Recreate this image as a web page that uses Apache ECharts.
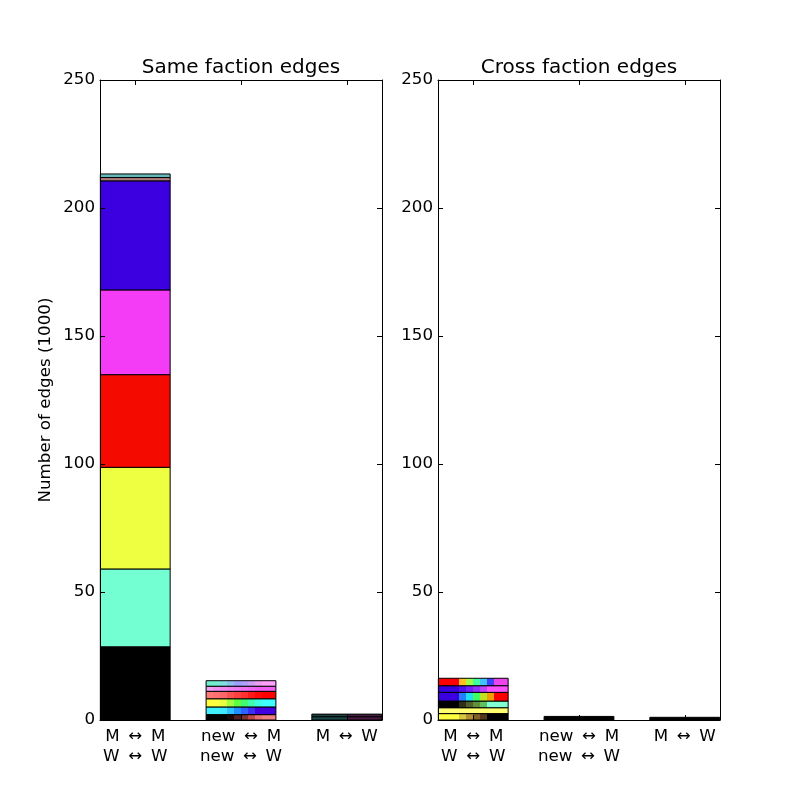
<!DOCTYPE html>
<html>
<head>
<meta charset="utf-8">
<script src="https://cdn.jsdelivr.net/npm/echarts@6/dist/echarts.min.js"></script>
<style>
  html, body { margin: 0; padding: 0; background: #fff; }
  #chart { width: 800px; height: 800px; }
</style>
</head>
<body>
<div id="chart"></div>
<script>
// x positions 0,1,2 on the category labels below
var categories = ['M \u2009↔\u2009 M\nW \u2009↔\u2009 W', 'new \u2009↔\u2009 M\nnew \u2009↔\u2009 W', 'M \u2009↔\u2009 W'];
var yTicks = [0, 50, 100, 150, 200, 250];

// segment heights (1000 edges), bottom to top, one list per category
var sameSegs = [
    [28.6, 30.4, 39.7, 36.2, 33.1, 42.6, 1.3, 1.4],
    [2.1, 3.0, 3.2, 2.9, 2.0, 2.15],
    [1.3, 1.0]
];
var crossSegs = [
    [2.5, 2.3, 2.6, 3.4, 2.6, 2.9],
    [1.4],
    [1.05]
];

// colour strips of every segment (left to right)
var sameColors = [
    [['#000000'], ['#73ffd2'], ['#eeff41'], ['#f50a00'], ['#f43cf6'], ['#3c00e0'], ['#b07a7a'], ['#66b8b8']],
    [
        ['#000000', '#000000', '#000000', '#1a0808', '#502020', '#803030', '#c04848', '#e87070', '#f08080', '#f08080'],
        ['#40f0ff', '#40f0ff', '#40e8ff', '#30c0ff', '#2090ff', '#3060ff', '#3a30f0', '#4000e0', '#4000e0', '#4000e0'],
        ['#ffff40', '#ffff40', '#e8ff40', '#a0ff40', '#60ff40', '#40ff70', '#40ffb0', '#40ffe0', '#40ffff', '#40ffff'],
        ['#ff7878', '#ff7070', '#ff6868', '#ff5050', '#ff4040', '#ff3030', '#ff1818', '#ff0808', '#ff0000', '#ff0000'],
        ['#f0a0f0', '#f090f0', '#f088f0', '#f080f0', '#f078f0', '#f070f0', '#f068f0', '#f060f0', '#f060f0', '#f060f0'],
        ['#70f0d0', '#70f0d0', '#80e0e0', '#90c0f0', '#a0a0ff', '#b0a0ff', '#d0a0f8', '#f0a0f0', '#ffa0ff', '#ffa0ff']
    ],
    [['#1a4a48', '#4a1a42'], ['#204444', '#442044']]
];
var crossColors = [
    [
        ['#ffff40', '#ffff40', '#ffff40', '#d8c840', '#b09030', '#806028', '#503818', '#000000', '#000000', '#000000'],
        ['#ffff70'],
        ['#000000', '#000000', '#000000', '#303018', '#506028', '#609038', '#60c060', '#80ffd0', '#80ffd0', '#80ffd0'],
        ['#3a00e0', '#3a00e0', '#3a00e0', '#2080ff', '#20e0f0', '#40ff60', '#c0e020', '#f0a000', '#ff0000', '#ff0000'],
        ['#3a00e0', '#3a00e0', '#3a00e0', '#5010f0', '#7020f8', '#9030ff', '#c040ff', '#ff50ff', '#ff50ff', '#ff50ff'],
        ['#ff0000', '#ff0000', '#ff0000', '#ffc020', '#a0ff40', '#40ffa0', '#40c0ff', '#4040ff', '#ee44ee', '#ee44ee']
    ],
    [['#000000']],
    [['#000000']]
];

var FONT = 'DejaVu Sans';
var BAR_W = 0.66;

//把一串颜色做成左右分段的渐变
var stripes = function(cols) {
    if (cols.length === 1) return cols[0];
    var stops = [];
    cols.forEach(function(c, j) {
        stops.push({offset: j / cols.length, color: c});
        stops.push({offset: (j + 1) / cols.length, color: c});
    });
    return new echarts.graphic.LinearGradient(0, 0, 1, 0, stops);
};

//堆叠：每段 [x, 底, 顶, 段序号]
var stackUp = function(segs) {
    var items = [];
    segs.forEach(function(s, i) {
        var base = 0;
        s.forEach(function(h, k) {
            items.push([i, base, base + h, k]);
            base += h;
        });
    });
    return items;
};

var makeSeries = function(segs, colors, axisIdx) {
    return {
        type: 'custom',
        xAxisIndex: axisIdx,
        yAxisIndex: axisIdx,
        encode: {x: 0, y: [1, 2]},
        data: stackUp(segs),
        renderItem: function(params, api) {
            var i = api.value(0);
            var k = api.value(3);
            var p0 = api.coord([i, api.value(1)]);
            var p1 = api.coord([i, api.value(2)]);
            var w = api.size([BAR_W, 0])[0];
            return {
                type: 'rect',
                shape: {x: p0[0] - w / 2, y: p1[1], width: w, height: p0[1] - p1[1]},
                style: {fill: stripes(colors[i][k]), stroke: '#000', lineWidth: 1}
            };
        }
    };
};

var xAxisFor = function(grid, top) {
    return {
        type: 'value',
        gridIndex: grid,
        position: top ? 'top' : 'bottom',
        min: -1 / 3,
        max: 7 / 3,
        z: 10,
        axisLine: {show: true, onZero: false, lineStyle: {color: '#000', width: 1}},
        axisTick: {show: true, inside: true, length: 5, customValues: [0, 1, 2], lineStyle: {color: '#000'}},
        axisLabel: {
            show: !top,
            customValues: [0, 1, 2],
            formatter: function(v) { return categories[Math.round(v)]; },
            color: '#000',
            fontFamily: FONT,
            fontSize: 16.7,
            lineHeight: 20,
            margin: 7
        },
        splitLine: {show: false}
    };
};

var yAxisFor = function(grid, right, name) {
    return {
        type: 'value',
        gridIndex: grid,
        position: right ? 'right' : 'left',
        min: 0,
        max: 250,
        interval: 50,
        z: 10,
        name: name || '',
        nameLocation: 'middle',
        nameGap: 46,
        nameTextStyle: {color: '#000', fontFamily: FONT, fontSize: 16.7},
        axisLine: {show: true, onZero: false, lineStyle: {color: '#000', width: 1}},
        axisTick: {show: true, inside: true, length: 5, lineStyle: {color: '#000'}},
        axisLabel: {
            show: !right,
            color: '#000',
            fontFamily: FONT,
            fontSize: 16.7,
            margin: 5,
            padding: [3, 0, 0, 0],
            formatter: function(v) { return yTicks.indexOf(v) >= 0 ? String(v) : ''; }
        },
        splitLine: {show: false}
    };
};

var option = {
    animation: false,
    backgroundColor: '#fff',
    title: [
        {text: 'Same faction edges', left: 236, top: 53, textAlign: 'center',
            textStyle: {fontFamily: FONT, fontSize: 20, fontWeight: 'normal', color: '#000'}},
        {text: 'Cross faction edges', left: 574, top: 53, textAlign: 'center',
            textStyle: {fontFamily: FONT, fontSize: 20, fontWeight: 'normal', color: '#000'}}
    ],
    grid: [
        {left: 100, top: 80, width: 282, height: 640},
        {left: 438, top: 80, width: 282, height: 640}
    ],
    xAxis: [xAxisFor(0, false), xAxisFor(0, true), xAxisFor(1, false), xAxisFor(1, true)],
    yAxis: [
        yAxisFor(0, false, 'Number of edges (1000)'),
        yAxisFor(0, true),
        yAxisFor(1, false),
        yAxisFor(1, true)
    ],
    series: [
        makeSeries(sameSegs, sameColors, 0),
        makeSeries(crossSegs, crossColors, 2)
    ]
};

var myChart = echarts.init(document.getElementById('chart'));
myChart.setOption(option);
</script>
</body>
</html>
